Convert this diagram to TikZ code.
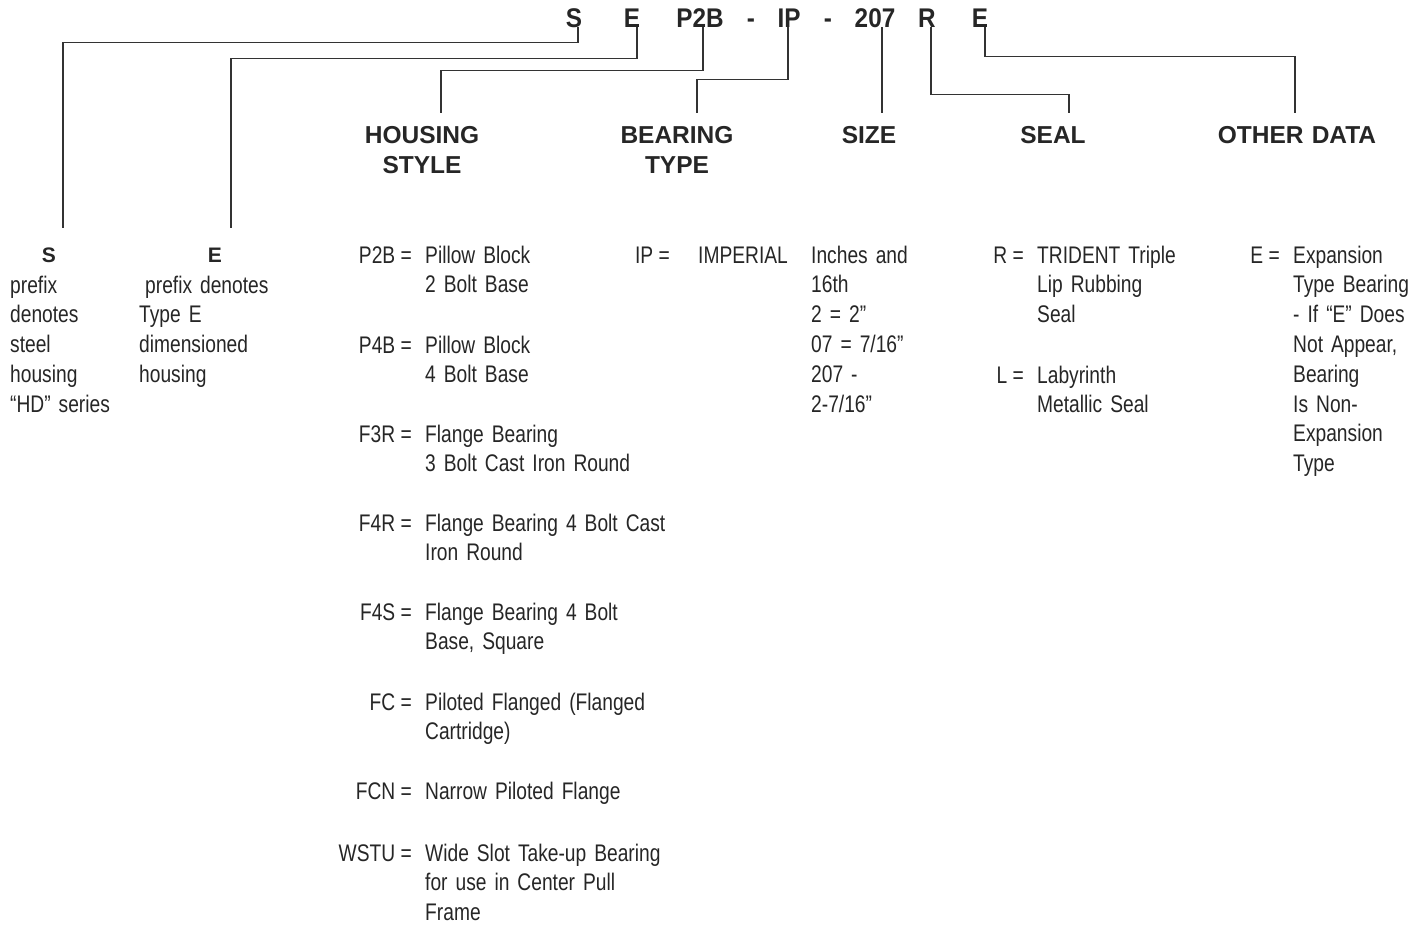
\documentclass[tikz,border=0pt]{standalone}
\usepackage{fontspec}
\setmainfont{Liberation Sans}
\newfontfamily\bodyfont{Liberation Sans}[FakeStretch=0.8]
\newfontfamily\codefont{Liberation Sans}[FakeStretch=0.9]
\usetikzlibrary{positioning}

\begin{document}
\begin{tikzpicture}[
        x=1pt, y=-1pt,
        font=\bodyfont\fontsize{24}{29.8}\selectfont,
        text=black!85,
        link/.style={line width=1.2pt, draw=black!80},
        codeletter/.style={font=\codefont\bfseries\fontsize{27}{30}\selectfont, inner sep=0pt, anchor=base},
        heading/.style={font=\bfseries\fontsize{24.5}{30.5}\selectfont, inner sep=0pt, anchor=base, align=center, text width=170pt},
        prefixletter/.style={font=\bfseries\fontsize{21}{25}\selectfont, inner sep=0pt, anchor=base},
        keycode/.style={inner sep=0pt, anchor=base east},
        keytext/.style={inner sep=0pt, anchor=base west, align=left, text width=260pt}
    ]
    \useasboundingbox (0,0) rectangle (1423,929);

    % part number
    \node[codeletter] (cS) at (574,27) {S};
    \node[codeletter] (cE) at (632,27) {E};
    \node[codeletter] (cP2B) at (700,27) {P2B};
    \node[codeletter] (dashA) at (751,27) {-};
    \node[codeletter] (cIP) at (789,27) {IP};
    \node[codeletter] (dashB) at (828,27) {-};
    \node[codeletter] (c207) at (875,27) {207};
    \node[codeletter] (cR) at (927,27) {R};
    \node[codeletter] (cE2) at (980,27) {E};

    % headings
    \node[heading] (hHousing) at (422,143) {HOUSING\\STYLE};
    \node[heading] (hBearing) at (677,143) {BEARING\\TYPE};
    \node[heading] (hSize) at (869,143) {SIZE};
    \node[heading] (hSeal) at (1053,143) {SEAL};
    \node[heading] (hOther) at (1297,143) {OTHER DATA};

    \node[prefixletter] (lS) at (49,262) {S};
    \node[prefixletter] (lE) at (215,262) {E};

    % ends of the leader lines
    \coordinate (dS) at (63,228);
    \coordinate (dE) at (231,228);
    \coordinate (dHousing) at (441,113);
    \coordinate (dBearing) at (697,113);
    \coordinate (dSize) at (882,113);
    \coordinate (dSeal) at (1069,113);
    \coordinate (dOther) at (1295,113);

    \draw[link] ([xshift=4pt]cS.south) -- ++(0,15) -| (dS);
    \draw[link] ([xshift=5pt]cE.south) -- ++(0,31) -| (dE);
    \draw[link] ([xshift=3pt]cP2B.south) -- ++(0,43) -| (dHousing);
    \draw[link] ([xshift=-1pt]cIP.south) -- ++(0,52) -| (dBearing);
    \draw[link] ([xshift=7pt]c207.south) -- (dSize);
    \draw[link] ([xshift=4pt]cR.south) -- ++(0,67) -| (dSeal);
    \draw[link] ([xshift=5pt]cE2.south) -- ++(0,29) -| (dOther);

    % prefixes
    \node[keytext] (tS) at (10,293) {prefix\\denotes\\steel\\housing\\“HD” series};
    \node[keytext] (tE) at (139,293) {\hspace{6pt}prefix denotes\\Type E\\dimensioned\\housing};

    % housing style
    \node[keycode] (kP2B) at (412,263) {P2B =};
    \node[keytext] (tP2B) at (425,263) {Pillow Block\\2 Bolt Base};
    \node[keycode] (kP4B) at (412,353) {P4B =};
    \node[keytext] (tP4B) at (425,353) {Pillow Block\\4 Bolt Base};
    \node[keycode] (kF3R) at (412,442) {F3R =};
    \node[keytext] (tF3R) at (425,442) {Flange Bearing\\3 Bolt Cast Iron Round};
    \node[keycode] (kF4R) at (412,531) {F4R =};
    \node[keytext] (tF4R) at (425,531) {Flange Bearing 4 Bolt Cast\\Iron Round};
    \node[keycode] (kF4S) at (412,620) {F4S =};
    \node[keytext] (tF4S) at (425,620) {Flange Bearing 4 Bolt\\Base, Square};
    \node[keycode] (kFC) at (412,710) {FC =};
    \node[keytext] (tFC) at (425,710) {Piloted Flanged (Flanged\\Cartridge)};
    \node[keycode] (kFCN) at (412,799) {FCN =};
    \node[keytext] (tFCN) at (425,799) {Narrow Piloted Flange};
    \node[keycode] (kWSTU) at (412,861) {WSTU =};
    \node[keytext] (tWSTU) at (425,861) {Wide Slot Take-up Bearing\\for use in Center Pull\\Frame};

    % bearing type
    \node[keycode] (kIP) at (670,263) {IP =};
    \node[keytext] (tIP) at (698,263) {IMPERIAL};

    % size
    \node[keytext] (tSize) at (811,263) {Inches and\\16th\\2 = 2”\\07 = 7/16”\\207 -\\2-7/16”};

    % seal
    \node[keycode] (kR) at (1024,263) {R =};
    \node[keytext] (tR) at (1037,263) {TRIDENT Triple\\Lip Rubbing\\Seal};
    \node[keycode] (kL) at (1024,383) {L =};
    \node[keytext] (tL) at (1037,383) {Labyrinth\\Metallic Seal};

    % other data
    \node[keycode] (kE) at (1280,263) {E =};
    \node[keytext] (tOther) at (1293,263) {Expansion\\Type Bearing\\- If “E” Does\\Not Appear,\\Bearing\\Is Non-\\Expansion\\Type};

\end{tikzpicture}
\end{document}
